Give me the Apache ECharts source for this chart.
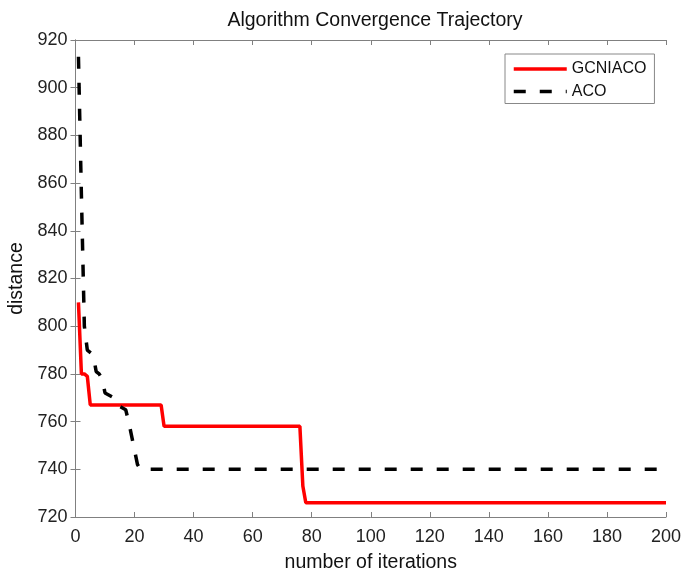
<!DOCTYPE html>
<html><head><meta charset="utf-8">
<script src="https://cdn.jsdelivr.net/npm/echarts@6/dist/echarts.min.js"></script>
<style>html,body{margin:0;padding:0;background:#fff}#c{width:681px;height:572px}</style>
</head><body><div id="c"></div>
<script>
// Data (iteration, distance) breakpoints
const gcniacoX = [1, 2, 3, 4, 5, 29, 30, 76, 77, 78, 200];
const gcniacoY = [810, 780, 780, 779, 767, 767, 758, 758, 733, 726, 726];
const acoX = [1, 2, 3, 4, 6, 7, 8, 9, 10, 13, 14, 17, 18, 21, 22, 200];
const acoY = [913, 855, 800, 790, 788, 781, 780, 778, 772, 770, 767, 765, 760, 742, 740, 740];
const xTicks = [0, 20, 40, 60, 80, 100, 120, 140, 160, 180, 200];
const yTicks = [720, 740, 760, 780, 800, 820, 840, 860, 880, 900, 920];

const font = 'Liberation Sans, Arial, sans-serif';
const axisCol = '#808080';
const pair = (xs, ys) => xs.map((x, i) => [x, ys[i]]);

const chart = echarts.init(document.getElementById('c'), null, {renderer: 'canvas'});
const baseX = {
  type: 'value', min: xTicks[0], max: xTicks[xTicks.length - 1], interval: 20,
  axisLine: {show: true, lineStyle: {color: axisCol, width: 1}},
  axisTick: {show: true, inside: true, length: 5, lineStyle: {color: axisCol}},
  splitLine: {show: false}
};
const baseY = {
  type: 'value', min: yTicks[0], max: yTicks[yTicks.length - 1], interval: 20,
  axisLine: {show: true, lineStyle: {color: axisCol, width: 1}},
  axisTick: {show: true, inside: true, length: 5, lineStyle: {color: axisCol}},
  splitLine: {show: false}
};
chart.setOption({
  animation: false,
  backgroundColor: '#fff',
  title: {
    text: 'Algorithm Convergence Trajectory', left: 370, top: 6, textAlign: 'center',
    textStyle: {fontFamily: font, fontSize: 19.5, fontWeight: 'normal', color: '#111'}
  },
  legend: {
    orient: 'vertical', left: 505, top: 54, padding: [6, 8, 3, 7], itemGap: 4.5,
    itemWidth: 53, itemHeight: 14,
    backgroundColor: '#fff', borderColor: '#888', borderWidth: 1, borderRadius: 0,
    itemStyle: {opacity: 0},
    lineStyle: {width: 3.5},
    textStyle: {fontFamily: font, fontSize: 16, lineHeight: 18, color: '#111'},
    data: ['GCNIACO', 'ACO']
  },
  grid: {left: 75.5, right: 15, top: 40, bottom: 55, containLabel: false, outerBoundsMode: 'none'},
  xAxis: [
    Object.assign({}, baseX, {
      position: 'bottom',
      name: 'number of iterations', nameLocation: 'middle', nameGap: 36,
      nameTextStyle: {fontFamily: font, fontSize: 19.5, color: '#111'},
      axisLabel: {fontFamily: font, fontSize: 18, color: '#222', margin: 11}
    }),
    Object.assign({}, baseX, {position: 'top', axisLabel: {show: false}})
  ],
  yAxis: [
    Object.assign({}, baseY, {
      position: 'left',
      name: 'distance', nameLocation: 'middle', nameGap: 43,
      nameTextStyle: {fontFamily: font, fontSize: 19.5, color: '#111'},
      axisLabel: {fontFamily: font, fontSize: 18, color: '#222', margin: 8}
    }),
    Object.assign({}, baseY, {position: 'right', axisLabel: {show: false}})
  ],
  series: [
    {
      name: 'GCNIACO', type: 'line', data: pair(gcniacoX, gcniacoY),
      symbol: 'none', lineStyle: {color: '#ff0000', width: 3.5}, itemStyle: {color: '#ff0000'}, z: 3
    },
    {
      name: 'ACO', type: 'line', data: pair(acoX, acoY),
      symbol: 'none', lineStyle: {color: '#000', width: 3.5, type: [12, 14]}, itemStyle: {color: '#000'}, z: 4
    }
  ]
});
</script></body></html>
